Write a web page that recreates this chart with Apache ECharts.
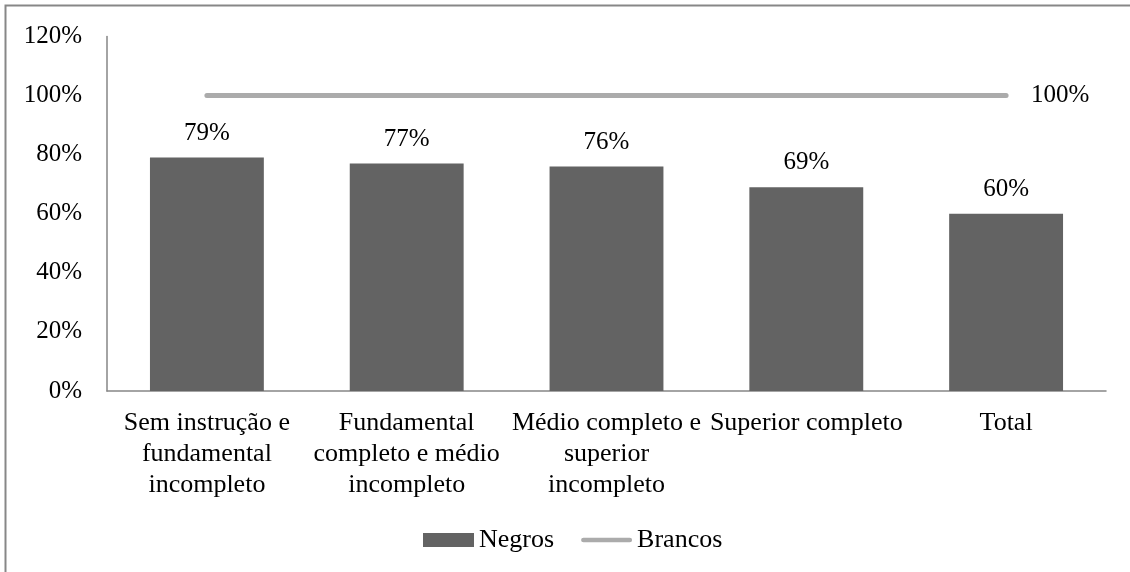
<!DOCTYPE html>
<html>
<head>
<meta charset="utf-8">
<script src="https://cdn.jsdelivr.net/npm/echarts@6/dist/echarts.min.js"></script>
<style>
html,body{margin:0;padding:0;background:#fff;}
#chart{width:1130px;height:572px;}
</style>
</head>
<body>
<div id="chart"></div>
<script>
const categories = [
  'Sem instrução e\nfundamental\nincompleto',
  'Fundamental\ncompleto e médio\nincompleto',
  'Médio completo e\nsuperior\nincompleto',
  'Superior completo',
  'Total'
];
const negros = [79, 77, 76, 69, 60];
const brancos = [100, 100, 100, 100, 100];
const yTicks = { min: 0, max: 120, interval: 20 };

const FONT = 'Liberation Serif';
const FS = 25;
const FS_TEXT = 26;
const chart = echarts.init(document.getElementById('chart'));

chart.setOption({
  animation: false,
  textStyle: { fontFamily: FONT, color: '#000' },
  graphic: [{
    type: 'rect', shape: { x: 5.5, y: 5.5, width: 1300, height: 800 },
    style: { fill: 'none', stroke: '#878787', lineWidth: 2 }, silent: true
  }],
  grid: { left: 107, right: 24, top: 36.5, bottom: 181 },
  legend: {
    left: 418, top: 522,
    itemWidth: 51, itemHeight: 14, itemGap: 27,
    textStyle: { fontFamily: FONT, fontSize: FS_TEXT, color: '#000' },
    data: [
      { name: 'Negros', icon: 'rect' },
      { name: 'Brancos', icon: 'path://M2.5,0 L52.5,0 A2.5,2.5 0 0 1 52.5,5 L2.5,5 A2.5,2.5 0 0 1 2.5,0 Z', itemStyle: { color: '#ababab' } }
    ]
  },
  xAxis: {
    type: 'category', data: categories,
    axisLine: { show: true, lineStyle: { color: '#868686', width: 1.5 } },
    axisTick: { show: false },
    axisLabel: { interval: 0, margin: 17, fontFamily: FONT, fontSize: FS_TEXT, lineHeight: 31, color: '#000', align: 'center' }
  },
  yAxis: {
    type: 'value', min: yTicks.min, max: yTicks.max, interval: yTicks.interval,
    splitLine: { show: false },
    axisLine: { show: true, lineStyle: { color: '#868686', width: 1.5 } },
    axisTick: { show: false },
    axisLabel: { formatter: '{value}%', margin: 25, fontFamily: FONT, fontSize: FS, color: '#000' }
  },
  series: [
    {
      name: 'Negros', type: 'bar', data: negros, barWidth: '57%',
      itemStyle: { color: '#636363' },
      label: { show: true, position: 'top', distance: 12, formatter: '{c}%', fontFamily: FONT, fontSize: FS, color: '#000' }
    },
    {
      name: 'Brancos', type: 'line', data: brancos, symbol: 'none',
      lineStyle: { color: '#ababab', width: 5, cap: 'round' },
      itemStyle: { color: '#ababab' },
      endLabel: { show: true, formatter: '{c}%', distance: 25, fontFamily: FONT, fontSize: FS, color: '#000' }
    }
  ]
});
</script>
</body>
</html>
